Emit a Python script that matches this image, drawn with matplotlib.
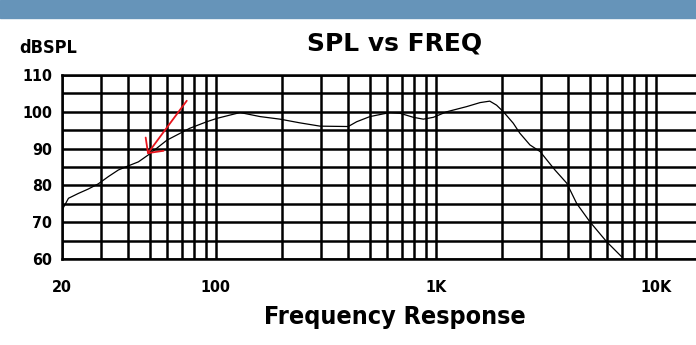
import matplotlib
matplotlib.use("Agg")
import matplotlib.pyplot as plt
from matplotlib.patches import Rectangle
from matplotlib import font_manager

# Measured response (Hz, dB SPL)
freq = [20, 21.4, 23.7, 26.3, 29.2, 32.5, 36.1, 40, 44.5, 49.4, 60, 76, 91,
        101, 129, 159, 196, 241, 298, 400, 437, 502, 619, 688, 791, 878, 975,
        1120, 1380, 1590, 1760, 1890, 2030, 2250, 2410, 2680, 2980, 3250,
        3480, 3940, 4370, 5020, 5980, 7000]
spl = [73.3, 76.5, 77.8, 79.0, 80.4, 82.4, 84.2, 85.3, 86.4, 88.3, 92.3, 95.5,
       97.3, 98.2, 99.8, 98.7, 98.0, 97.0, 96.1, 96.0, 97.3, 98.7, 99.8, 99.6,
       98.5, 98.0, 98.5, 100.0, 101.4, 102.5, 102.9, 101.8, 100.0, 96.9, 94.2,
       91.0, 89.2, 86.4, 84.2, 80.6, 75.1, 70.1, 64.7, 60.6]

x_ticks = [20, 100, 1000, 10000]
x_labels = ["20", "100", "1K", "10K"]
x_minor = [30, 40, 50, 60, 70, 80, 90, 200, 300, 400, 500, 600, 700, 800, 900,
           2000, 3000, 4000, 5000, 6000, 7000, 8000, 9000]
y_ticks = [60, 70, 80, 90, 100, 110]
y_minor = [65, 75, 85, 95, 105]

# arrow pointing at the bass knee
arrow_tip = (48.8, 88.5)
arrow_tail = (73.8, 103.0)


def narrow_font(size):
    return font_manager.FontProperties(family="DejaVu Sans", stretch="condensed",
                                       weight="bold", size=size)


fig = plt.figure(figsize=(6.96, 3.45), dpi=100)
fig.patches.append(Rectangle((0, 0.948), 1, 0.052, transform=fig.transFigure,
                             color="#6694b9", zorder=0))

ax = fig.add_axes([0.0891, 0.2493, 0.9109, 0.5333])
ax.set_xscale("log")
ax.set_xlim(20, 15240)
ax.set_ylim(60, 110)

ax.set_xticks(x_ticks)
ax.set_xticklabels(x_labels)
ax.set_xticks(x_minor, minor=True)
ax.set_yticks(y_ticks)
ax.set_yticks(y_minor, minor=True)
ax.xaxis.set_minor_formatter(plt.NullFormatter())
ax.tick_params(which="both", length=0)
ax.tick_params(axis="x", pad=15)
ax.tick_params(axis="y", pad=7)
for lbl in ax.get_xticklabels() + ax.get_yticklabels():
    lbl.set_fontproperties(narrow_font(11.5))

ax.grid(which="both", color="black", linewidth=1.8)
ax.set_axisbelow(True)
for side in ("left", "bottom", "top"):
    ax.spines[side].set_linewidth(1.8)
ax.spines["right"].set_visible(False)

ax.plot(freq, spl, color="black", linewidth=0.9, zorder=3)

ax.annotate("", xy=arrow_tip, xytext=arrow_tail,
            arrowprops=dict(arrowstyle="->,head_length=0.4,head_width=0.4",
                            color="#e8141c", linewidth=1.3, mutation_scale=20,
                            shrinkA=0, shrinkB=0), zorder=4)

fig.text(0.567, 0.875, "SPL vs FREQ", ha="center", va="center",
         fontsize=18, fontweight="bold", family="DejaVu Sans")
fig.text(0.027, 0.86, "dBSPL", ha="left", va="center",
         fontproperties=narrow_font(13))
fig.text(0.567, 0.08, "Frequency Response", ha="center", va="center",
         fontproperties=narrow_font(18))

fig.savefig("out.png", dpi=100)
